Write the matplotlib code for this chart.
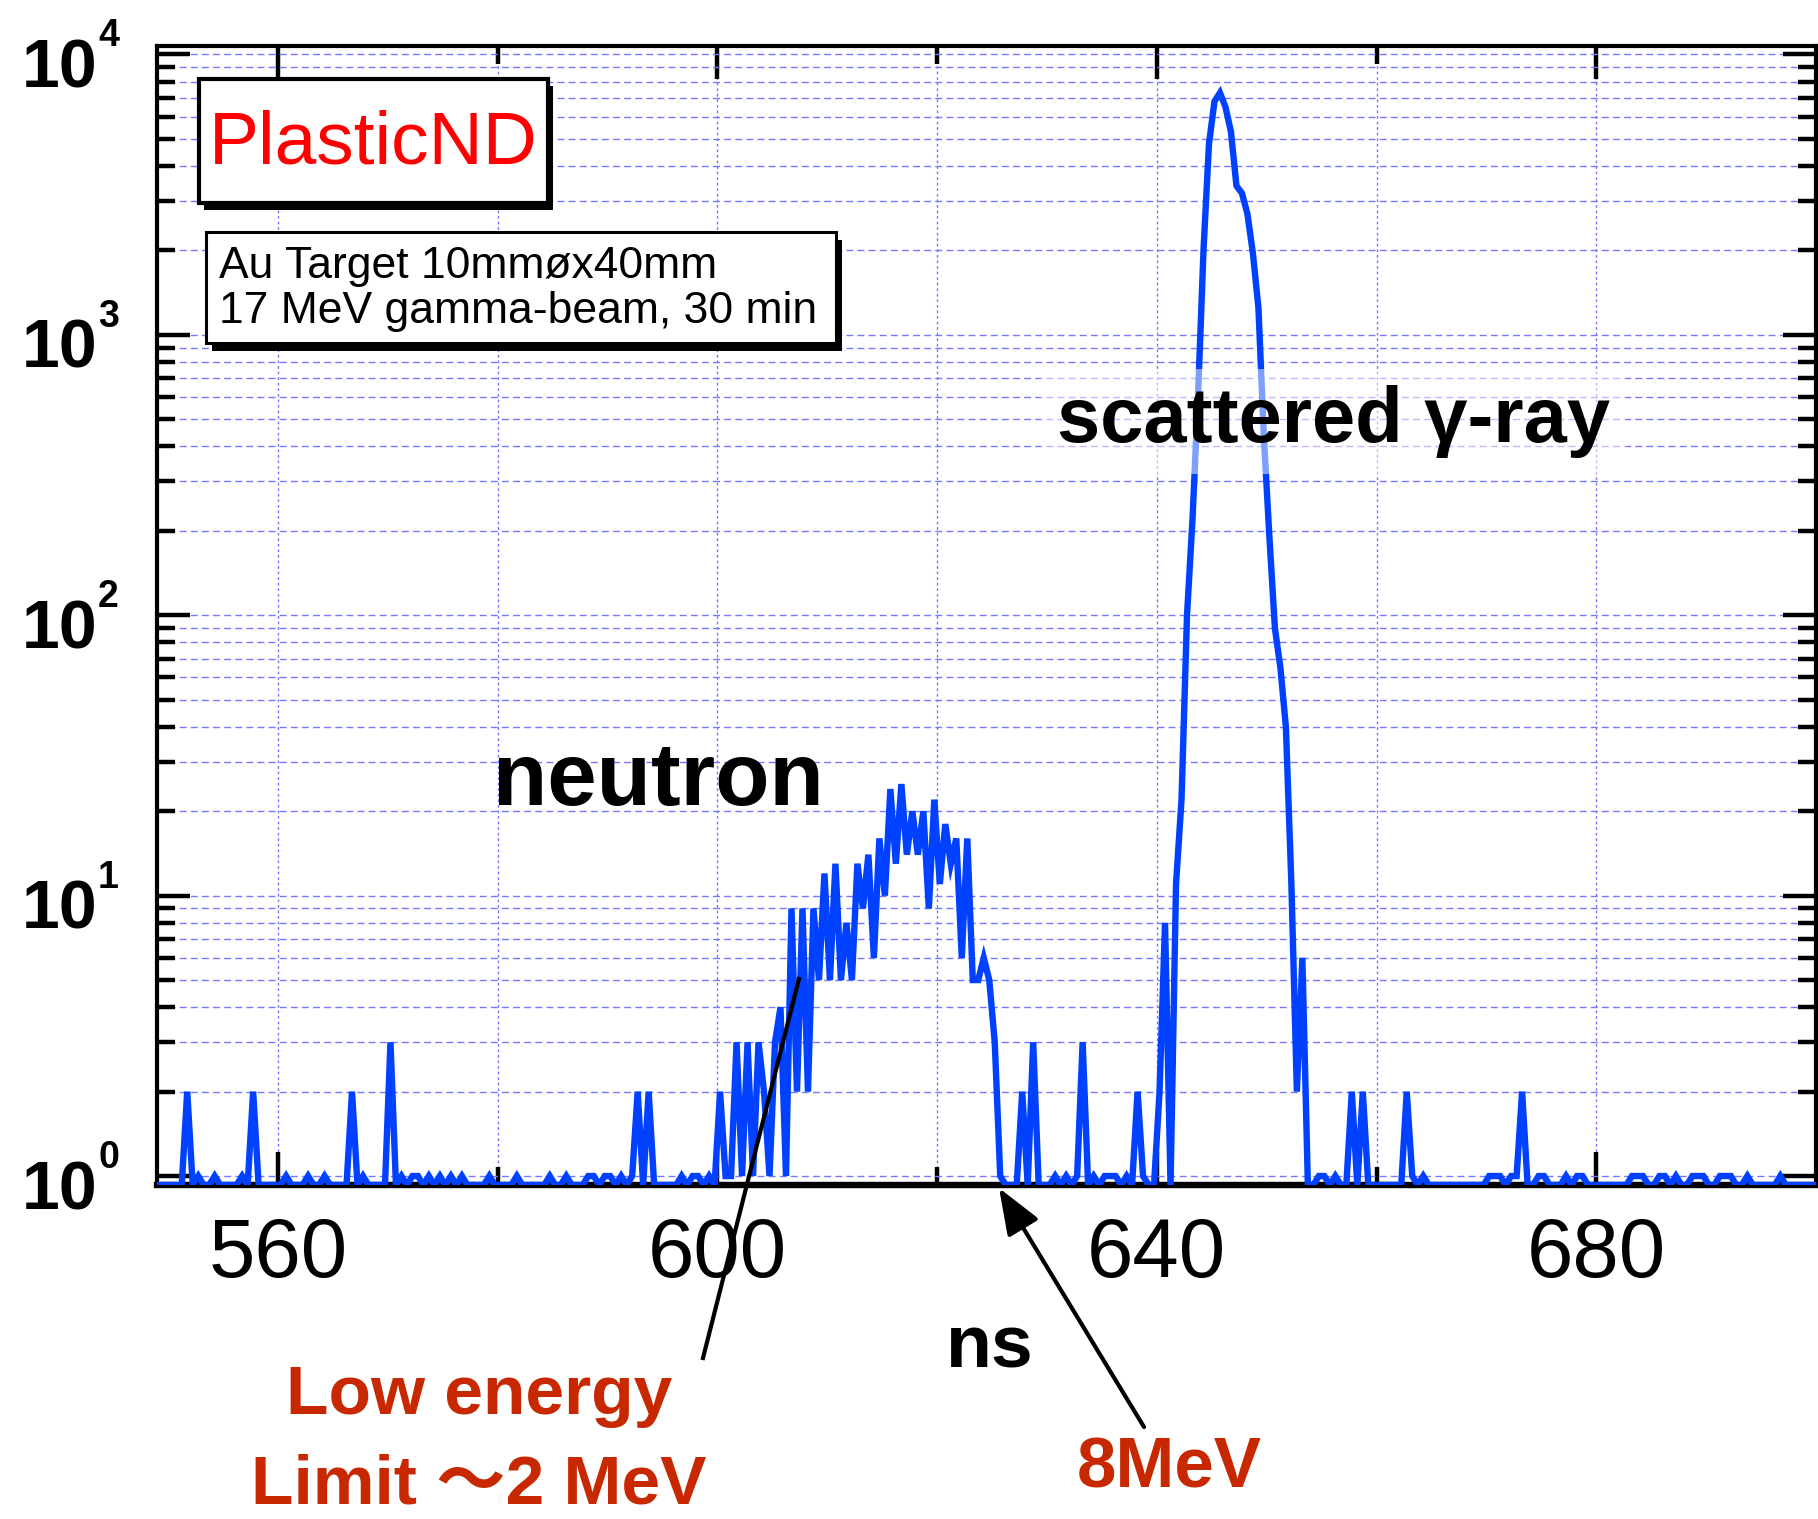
import numpy as np
import matplotlib
matplotlib.use("Agg")
import matplotlib.pyplot as plt
from matplotlib.patches import Rectangle, FancyArrowPatch
from matplotlib.lines import Line2D
from matplotlib.ticker import FixedLocator, LogLocator, NullFormatter

plt.rcParams['font.family'] = ['Liberation Sans', 'Noto Sans CJK JP', 'DejaVu Sans']

# ---------------- data ----------------
BIN_WIDTH = 0.5
X_MIN, X_MAX = 549.0, 700.0
Y_MIN, Y_MAX = 0.929, 1.072e4

# isolated background bins with 2-3 counts (ns)
bg_times = [551.75, 557.75, 566.75, 570.25, 592.75, 593.75, 627.75, 628.75,
            633.25, 638.25, 657.75, 658.75, 662.75, 673.25]
bg_counts = [2, 2, 2, 3, 2, 2, 2, 3, 3, 2, 2, 2, 2, 2]

# isolated background bins with a single count (ns)
single_times = [552.75, 554.25, 556.75, 560.75, 562.75, 564.25, 567.75, 571.25,
                572.25, 572.75, 573.75, 574.75, 575.75, 576.75, 579.25, 581.75,
                584.75, 586.25, 588.25, 588.75, 589.75, 590.25, 591.25, 592.25,
                596.75, 597.75, 598.25, 630.75, 631.75, 632.75, 634.25, 635.25,
                635.75, 636.25, 637.25, 638.75, 654.75, 655.25, 656.25, 663.25,
                664.25, 670.25, 670.75, 671.25, 672.25, 672.75, 674.75, 675.25,
                677.25, 678.25, 678.75, 683.25, 683.75, 684.25, 685.75, 686.25,
                687.25, 688.75, 689.25, 689.75, 691.25, 691.75, 692.25, 693.75,
                696.75]

# neutron region, consecutive bins starting at 599.25 ns
neutron_start = 599.25
neutron_counts = [1, 0, 2, 1, 1, 3, 1, 3, 1, 3, 2, 1, 3, 4, 1, 9, 2, 9, 2, 9,
                  5, 12, 5, 13, 5, 8, 5, 13, 9, 14, 6, 16, 10, 24, 13, 25, 14,
                  20, 14, 20, 9, 22, 11, 18, 13, 16, 6, 16, 5, 5, 6, 5, 3, 1]

# scattered gamma peak, consecutive bins starting at 640.25 ns
gamma_start = 640.25
gamma_counts = [2, 8, 0, 11, 22, 100, 220, 600, 2000, 4800, 6800, 7300, 6500,
                5300, 3400, 3200, 2700, 1950, 1250, 430, 190, 90, 65, 40, 11, 2, 6]

x_major = [560, 600, 640, 680]
x_minor = [580, 620, 660]
x_labels = ['560', '600', '640', '680']
y_decades = [0, 1, 2, 3, 4]

# ---------------- histogram assembly ----------------
edges = np.arange(X_MIN, X_MAX + 1e-9, BIN_WIDTH)
centers = edges[:-1] + BIN_WIDTH / 2
counts = np.zeros(len(centers))


def idx(t):
    return int(round((t - centers[0]) / BIN_WIDTH))


for t in single_times:
    counts[idx(t)] = 1
for t, c in zip(bg_times, bg_counts):
    counts[idx(t)] = c
i0 = idx(neutron_start)
counts[i0:i0 + len(neutron_counts)] = neutron_counts
i0 = idx(gamma_start)
counts[i0:i0 + len(gamma_counts)] = gamma_counts

y_plot = np.where(counts > 0, counts, Y_MIN)

# ---------------- figure ----------------
W, H = 1818, 1519
fig = plt.figure(figsize=(W / 100, H / 100), dpi=100)
fig.patch.set_facecolor('white')


def fx(px):
    return px / W


def fy(py):
    return 1 - py / H


ax = fig.add_axes([fx(157), fy(1185), (1816 - 157) / W, (1185 - 46) / H])
ax.set_xlim(X_MIN, X_MAX)
ax.set_yscale('log')
ax.set_ylim(Y_MIN, Y_MAX)

ax.plot(centers, y_plot, color='#0040ff', lw=4.6, solid_joinstyle='miter', zorder=3)

# ticks
ax.xaxis.set_major_locator(FixedLocator(x_major))
ax.xaxis.set_minor_locator(FixedLocator(x_minor))
ax.set_xticklabels(x_labels)
ax.yaxis.set_major_locator(FixedLocator([10 ** k for k in y_decades]))
ax.yaxis.set_minor_locator(LogLocator(base=10, subs=np.arange(2, 10), numticks=20))
ax.yaxis.set_major_formatter(NullFormatter())
ax.yaxis.set_minor_formatter(NullFormatter())
ax.tick_params(which='both', direction='in', top=True, right=True, color='black')
ax.tick_params(which='major', length=24, width=3.2)
ax.tick_params(which='minor', length=13, width=3.2)
ax.tick_params(axis='x', which='major', labelsize=60, pad=22)

for s in ['left', 'top', 'right']:
    ax.spines[s].set_linewidth(3.0)
ax.spines['bottom'].set_linewidth(4.6)

# grid
ax.set_axisbelow(True)
ax.xaxis.grid(True, which='both', color='#7878ff', lw=1.0, linestyle=(0, (2, 2)))
ax.yaxis.grid(True, which='both', color='#7878ff', lw=1.0, linestyle=(0, (5, 3)))

# y tick labels 10^k
for k in y_decades:
    ax.annotate('10', xy=(0, 10 ** k), xycoords=('axes fraction', 'data'),
                xytext=(-60, -33), textcoords='offset pixels', ha='right',
                va='baseline', fontsize=49, fontweight='bold', annotation_clip=False)
    ax.annotate(str(k), xy=(0, 10 ** k), xycoords=('axes fraction', 'data'),
                xytext=(-59, 8), textcoords='offset pixels', ha='left',
                va='baseline', fontsize=27, fontweight='bold', annotation_clip=False)

# ---------------- boxes ----------------
def pave(x0, y0, x1, y1, dx, dy, lw):
    fig.add_artist(Rectangle((fx(x0 + dx), fy(y1 + dy)), (x1 - x0) / W, (y1 - y0) / H,
                             transform=fig.transFigure, facecolor='black',
                             edgecolor='black', lw=0, zorder=5))
    fig.add_artist(Rectangle((fx(x0), fy(y1)), (x1 - x0) / W, (y1 - y0) / H,
                             transform=fig.transFigure, facecolor='white',
                             edgecolor='black', lw=lw, zorder=6))


pave(199, 79, 548, 203, 5, 7, 3.0)
pave(206, 232, 836, 343, 6, 8, 2.2)

fig.text(fx(373), fy(163), 'PlasticND', color='#ff0000', fontsize=54,
         ha='center', va='baseline', zorder=7)
fig.text(fx(219), fy(278), 'Au Target 10mmøx40mm', color='black', fontsize=32,
         ha='left', va='baseline', zorder=7)
fig.text(fx(219), fy(323), '17 MeV gamma-beam, 30 min', color='black', fontsize=32,
         ha='left', va='baseline', zorder=7)

# ---------------- labels ----------------
fig.text(fx(493), fy(805), 'neutron', fontsize=64, fontweight='bold',
         ha='left', va='baseline', zorder=7)
fig.text(fx(1057), fy(442), 'scattered γ-ray', fontsize=56, fontweight='bold',
         ha='left', va='baseline', zorder=7,
         bbox=dict(boxstyle='square,pad=0.2', facecolor='white', alpha=0.5,
                   edgecolor='none'))
fig.text(fx(990), fy(1368), 'ns', fontsize=54, fontweight='bold',
         ha='center', va='baseline', zorder=7)

red = '#c82800'
fig.text(fx(479), fy(1414), 'Low energy', fontsize=50, fontweight='bold',
         color=red, ha='center', va='baseline', zorder=7)
fig.text(fx(479), fy(1503), 'Limit ～2 MeV', fontsize=50, fontweight='bold',
         color=red, ha='center', va='baseline', zorder=7)
fig.text(fx(1169), fy(1487), '8MeV', fontsize=51, fontweight='bold',
         color=red, ha='center', va='baseline', zorder=7)

fig.add_artist(Line2D([fx(703), fx(799)], [fy(1358), fy(979)], color='black',
                      lw=3.0, transform=fig.transFigure, zorder=8))
fig.add_artist(FancyArrowPatch((fx(1144), fy(1427)), (fx(999), fy(1188)),
                               transform=fig.transFigure,
                               arrowstyle='-|>,head_length=1.3,head_width=0.5',
                               mutation_scale=22, lw=3.0, color='black',
                               shrinkA=0, shrinkB=0, zorder=8))

fig.savefig('out.png', dpi=100, facecolor='white')
